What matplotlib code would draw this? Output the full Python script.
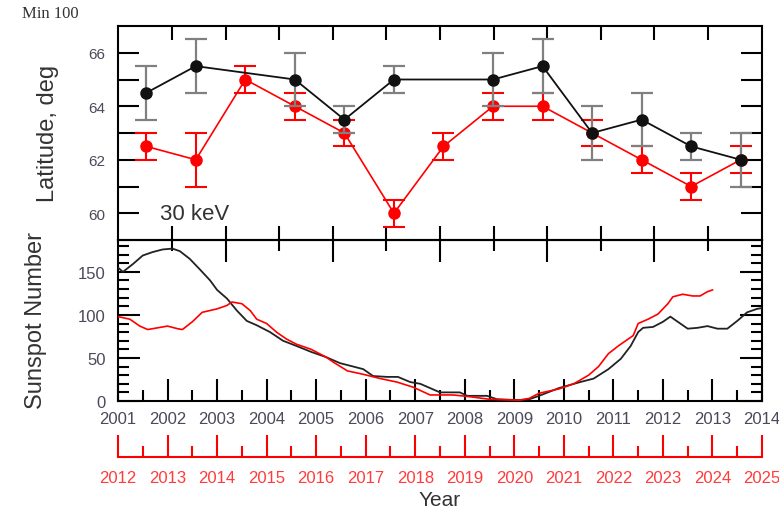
import numpy as np
import matplotlib
matplotlib.use("Agg")
import matplotlib.pyplot as plt

plt.rcParams['font.family'] = ['Liberation Sans', 'DejaVu Sans']

# Широта (верхняя панель), 30 keV
lat_years = [2001.57, 2002.57, 2003.57, 2004.57, 2005.57, 2006.57, 2007.57,
             2008.57, 2009.57, 2010.57, 2011.57, 2012.57, 2013.57]
red_lat = [62.5, 62.0, 65.0, 64.0, 63.0, 60.0, 62.5, 64.0, 64.0, 63.0, 62.0, 61.0, 62.0]
red_lat_err = [0.5, 1.0, 0.5, 0.5, 0.5, 0.5, 0.5, 0.5, 0.5, 0.5, 0.5, 0.5, 0.5]

black_lat_years = [2001.57, 2002.57, 2004.57, 2005.57, 2006.57, 2008.57,
                   2009.57, 2010.57, 2011.57, 2012.57, 2013.57]
black_lat = [64.5, 65.5, 65.0, 63.5, 65.0, 65.0, 65.5, 63.0, 63.5, 62.5, 62.0]
black_lat_err = [1.0, 1.0, 1.0, 0.5, 0.5, 1.0, 1.0, 1.0, 1.0, 0.5, 1.0]

# Числа Вольфа (нижняя панель)
black_ssn_years = [2001.0, 2001.1, 2001.3, 2001.5, 2001.7, 2001.9, 2002.1, 2002.25,
                   2002.45, 2002.65, 2002.86, 2003.0, 2003.2, 2003.4, 2003.6, 2003.8,
                   2004.07, 2004.33, 2004.6, 2004.9, 2005.2, 2005.48, 2005.75, 2005.95,
                   2006.15, 2006.43, 2006.65, 2006.9, 2007.1, 2007.3, 2007.5, 2007.9,
                   2008.05, 2008.45, 2008.65, 2009.1, 2009.3, 2009.5, 2009.9, 2010.33,
                   2010.6, 2010.9, 2011.15, 2011.35, 2011.5, 2011.6, 2011.8, 2012.0,
                   2012.15, 2012.3, 2012.5, 2012.7, 2012.9, 2013.1, 2013.3, 2013.5,
                   2013.7, 2013.9, 2014.0]
black_ssn = [155, 150, 159, 169, 173, 176, 177, 174, 165, 153, 140, 129, 119, 105, 93, 88,
             80, 70, 64, 57, 51, 44, 40, 37, 29, 28, 28, 22, 20, 15, 10, 10,
             6, 6, 2, 1, 2, 6, 15, 22, 26, 37, 49, 64, 80, 85, 86, 92,
             98, 92, 84, 85, 87, 84, 84, 93, 103, 107, 108]

red_ssn_years = [2012.0, 2012.08, 2012.24, 2012.44, 2012.6, 2012.8, 2013.0, 2013.2,
                 2013.3, 2013.5, 2013.7, 2014.0, 2014.2, 2014.3, 2014.5, 2014.67,
                 2014.8, 2015.0, 2015.2, 2015.4, 2015.6, 2015.9, 2016.2, 2016.35,
                 2016.63, 2016.95, 2017.3, 2017.63, 2017.96, 2018.3, 2018.77, 2019.1,
                 2019.5, 2020.1, 2020.3, 2020.5, 2020.9, 2021.2, 2021.5, 2021.7,
                 2021.9, 2022.1, 2022.4, 2022.5, 2022.7, 2022.9, 2023.1, 2023.2,
                 2023.4, 2023.6, 2023.75, 2023.9, 2024.0]
red_ssn = [98, 97, 95, 87, 83, 85, 87, 84, 83, 92, 103, 107, 111, 115, 113, 105,
           95, 90, 80, 72, 66, 60, 51, 45, 35, 31, 26, 22, 16, 7, 7, 5,
           2, 1, 3, 9, 14, 20, 30, 40, 55, 64, 76, 90, 95, 101, 113, 121,
           124, 122, 122, 127, 129]

black_years_ticks = list(range(2001, 2015))
red_years_ticks = list(range(2012, 2026))

LABEL_GREY = '#4a4a5a'
RED = '#ff0000'

fig = plt.figure(figsize=(7.79, 5.10), dpi=100)
W, H = 779, 510
x0, x1 = 118 / W, 762 / W
ax1 = fig.add_axes([x0, 1 - 241 / H, x1 - x0, (241 - 27) / H])
ax2 = fig.add_axes([x0, 1 - 402 / H, x1 - x0, (402 - 241) / H])

# --- верхняя панель ---
ax1.errorbar(lat_years, red_lat, yerr=red_lat_err, color=RED, marker='o', ms=8,
             lw=1.2, elinewidth=1.5, capsize=8, capthick=1.5, ecolor=RED, zorder=2)
ax1.errorbar(black_lat_years, black_lat, yerr=black_lat_err, color='#111111', marker='o',
             ms=8, lw=1.3, elinewidth=1.6, capsize=8, capthick=1.6, ecolor='#808080', zorder=3)
ax1.set_xlim(2001, 2014)
ax1.set_ylim(59, 67)
ax1.set_yticks([60, 62, 64, 66])
ax1.set_yticks([61, 63, 65], minor=True)
deco = np.arange(2002.1, 2013.5, 1.08)
ax1.set_xticks(deco)
ax1.set_xticklabels([])
ax1.tick_params(axis='x', which='major', direction='in', top=True, bottom=True, length=10, width=1.5)
ax1.tick_params(axis='y', which='both', direction='in', left=True, right=True, length=15, width=1.5,
                labelsize=11, labelcolor=LABEL_GREY, pad=9)
ax1.text(0.065, 0.098, '30 keV', transform=ax1.transAxes, fontsize=16, color='#333333')

# --- нижняя панель ---
ax2.plot(black_ssn_years, black_ssn, color='#222222', lw=1.3, zorder=3)
ax2.set_xlim(2001, 2014)
ax2.set_ylim(0, 187)
ax2.set_yticks([0, 50, 100, 150])
ax2.set_yticks(np.arange(0, 187, 10), minor=True)
ax2.set_xticks(black_years_ticks)
ax2.set_xticks(np.arange(2001.5, 2014, 1.0), minor=True)
ax2.set_xticklabels([str(y) for y in black_years_ticks])
ax2.tick_params(axis='both', which='major', direction='in', length=16, width=1.5,
                labelsize=12, labelcolor=LABEL_GREY)
ax2.tick_params(axis='both', which='minor', direction='in', length=8, width=1.5)
ax2.tick_params(axis='y', which='both', left=True, right=True, pad=9)
ax2.tick_params(axis='x', which='both', top=False, pad=7)

top_ax = ax2.secondary_xaxis('top')
top_ax.set_xticks(deco[1::2])
top_ax.set_xticks(deco[0::2], minor=True)
top_ax.set_xticklabels([])
top_ax.tick_params(which='major', direction='in', length=16, width=1.5)
top_ax.tick_params(which='minor', direction='in', length=8, width=1.5)

# красная ось 2012-2025
ax_red = ax2.twiny()
ax_red.plot(red_ssn_years, red_ssn, color=RED, lw=1.2, zorder=2)
ax_red.set_xlim(2012, 2025)
ax_red.xaxis.set_ticks_position('bottom')
ax_red.xaxis.set_label_position('bottom')
ax_red.spines['bottom'].set_position(('outward', 40))
for s in ['top', 'left', 'right']:
    ax_red.spines[s].set_visible(False)
ax_red.spines['bottom'].set_color(RED)
ax_red.spines['bottom'].set_linewidth(1.5)
ax_red.set_xticks(red_years_ticks)
ax_red.set_xticks(np.arange(2012.5, 2025, 1.0), minor=True)
ax_red.set_xticklabels([str(y) for y in red_years_ticks])
ax_red.tick_params(axis='x', which='major', direction='in', length=16, width=1.5, color=RED,
                   labelsize=12, labelcolor='#ff3b3b', pad=10)
ax_red.tick_params(axis='x', which='minor', direction='in', length=8, width=1.5, color=RED)
ax_red.set_xlabel('Year', fontsize=15, color='#333333', labelpad=3)

for ax in (ax1, ax2):
    for s in ax.spines.values():
        s.set_linewidth(1.5)

fig.text(48 / W, 1 - 133 / H, 'Latitude, deg', rotation=90, ha='center', va='center',
         fontsize=17, color='#333333')
fig.text(36 / W, 1 - 321 / H, 'Sunspot Number', rotation=90, ha='center', va='center',
         fontsize=17, color='#333333')
fig.text(22 / W, 1 - 14 / H, 'Min 100', ha='left', va='center', fontsize=12,
         family='Liberation Serif', color='#333333')

fig.savefig('out.png', dpi=100)
